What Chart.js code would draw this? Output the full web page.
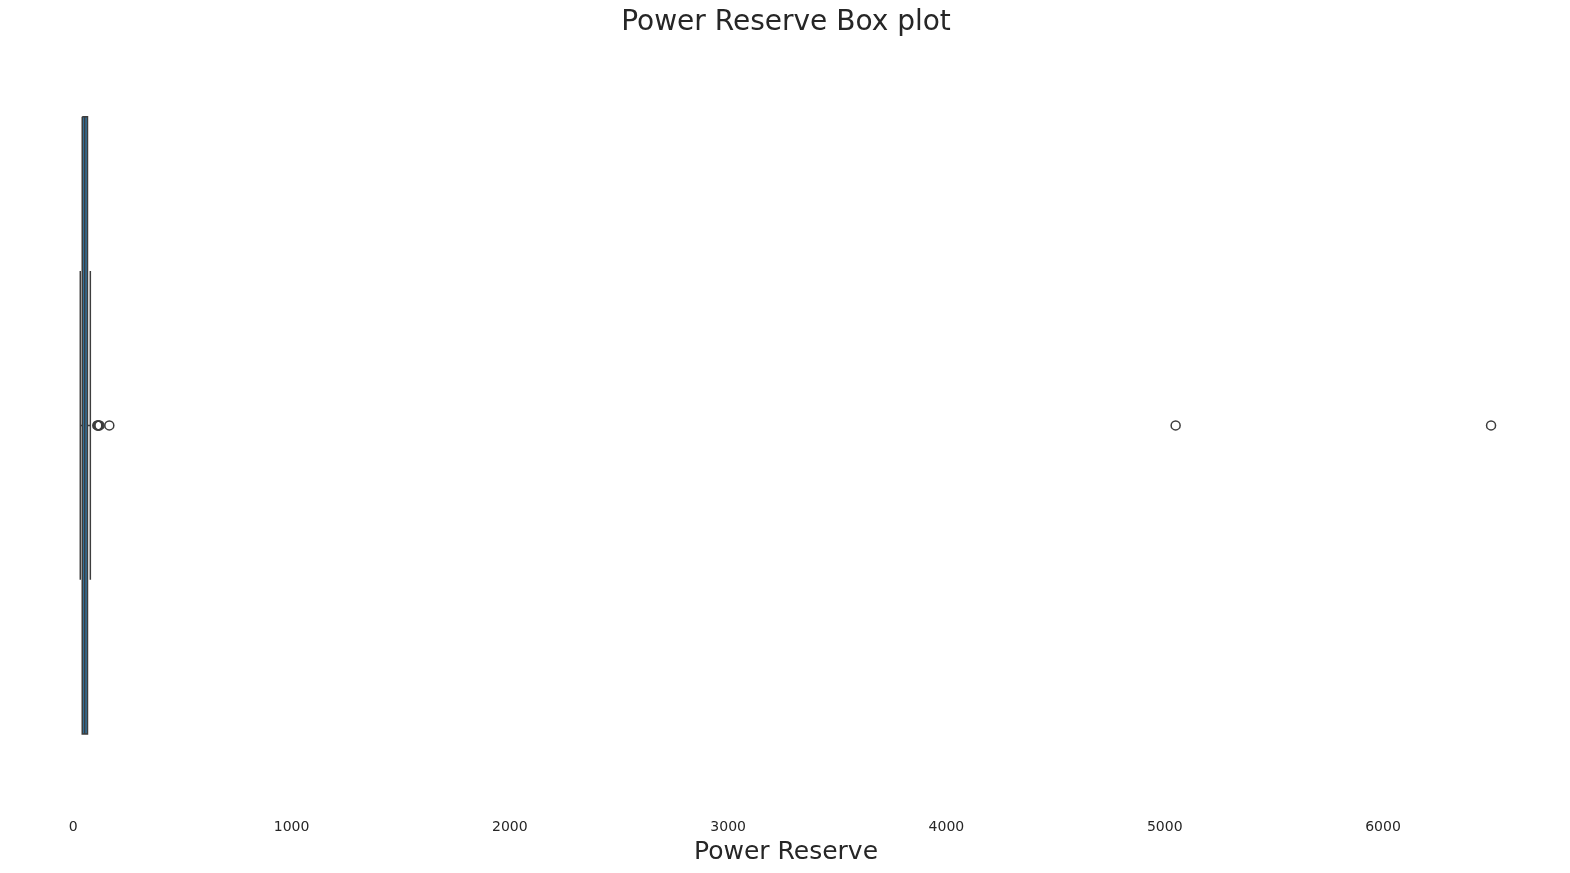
<!DOCTYPE html>
<html>
<head>
<meta charset="utf-8">
<script src="https://cdn.jsdelivr.net/npm/chart.js@4.4.1/dist/chart.umd.min.js"></script>
<style>
  html, body { margin: 0; padding: 0; background: #ffffff; }
  #wrap { width: 1570px; height: 873px; }
</style>
</head>
<body>
<div id="wrap"><canvas id="c" width="1570" height="873"></canvas></div>
<script>
// ---- data ----
const boxStats = { low: 32, q1: 41, median: 52, q3: 65, high: 78 };
const outlierValues = [110, 113, 116, 120, 165, 5050, 6495];
const xTickValues = [0, 1000, 2000, 3000, 4000, 5000, 6000];
const chartTitle = 'Power Reserve Box plot';
const axisTitle = 'Power Reserve';

const BOX_HALF = 0.4, CAP_HALF = 0.2;
const edge = '#3d3d3d';
const fillBlue = '#3274a1';

const line = (pts, extra) => Object.assign({
  data: pts, showLine: true, pointRadius: 0, borderColor: edge,
  borderWidth: 1.5, fill: false, order: 2
}, extra || {});

const datasets = [
  line([{x: boxStats.q1, y: BOX_HALF}, {x: boxStats.q3, y: BOX_HALF}],
       {borderWidth: 0, fill: {value: -BOX_HALF}, backgroundColor: fillBlue, order: 5}),
  line([{x: boxStats.q1, y: -BOX_HALF}, {x: boxStats.q3, y: -BOX_HALF},
        {x: boxStats.q3, y: BOX_HALF}, {x: boxStats.q1, y: BOX_HALF},
        {x: boxStats.q1, y: -BOX_HALF}]),
  line([{x: boxStats.median, y: -BOX_HALF}, {x: boxStats.median, y: BOX_HALF}]),
  line([{x: boxStats.low, y: 0}, {x: boxStats.q1, y: 0}]),
  line([{x: boxStats.q3, y: 0}, {x: boxStats.high, y: 0}]),
  line([{x: boxStats.low, y: -CAP_HALF}, {x: boxStats.low, y: CAP_HALF}]),
  line([{x: boxStats.high, y: -CAP_HALF}, {x: boxStats.high, y: CAP_HALF}]),
  {
    data: outlierValues.map(v => ({x: v, y: 0})),
    showLine: false, pointRadius: 4.5, pointStyle: 'circle',
    pointBackgroundColor: 'rgba(255,255,255,0)', pointBorderColor: edge,
    pointBorderWidth: 1.5, order: 1
  }
];

new Chart(document.getElementById('c'), {
  type: 'scatter',
  data: { datasets },
  options: {
    responsive: false,
    animation: false,
    events: [],
    layout: { padding: { left: 10, right: 8, top: 0, bottom: 6 } },
    plugins: {
      legend: { display: false },
      tooltip: { enabled: false },
      title: {
        display: true, text: chartTitle, color: '#262626',
        font: { family: 'DejaVu Sans', size: 28, weight: 'normal' },
        padding: { top: 6, bottom: 0 }
      }
    },
    scales: {
      x: {
        type: 'linear', min: -290, max: 6820,
        grid: { display: false, drawTicks: false },
        border: { display: false },
        afterBuildTicks: (s) => { s.ticks = xTickValues.map(v => ({ value: v })); },
        ticks: {
          color: '#262626', padding: 8, maxRotation: 0, autoSkip: false,
          font: { family: 'DejaVu Sans', size: 14 },
          callback: (v) => String(v)
        },
        title: {
          display: true, text: axisTitle, color: '#262626',
          font: { family: 'DejaVu Sans', size: 25 },
          padding: { top: -7, bottom: 0 }
        }
      },
      y: {
        type: 'linear', min: -0.5, max: 0.5, reverse: true, display: false
      }
    }
  }
});
</script>
</body>
</html>
